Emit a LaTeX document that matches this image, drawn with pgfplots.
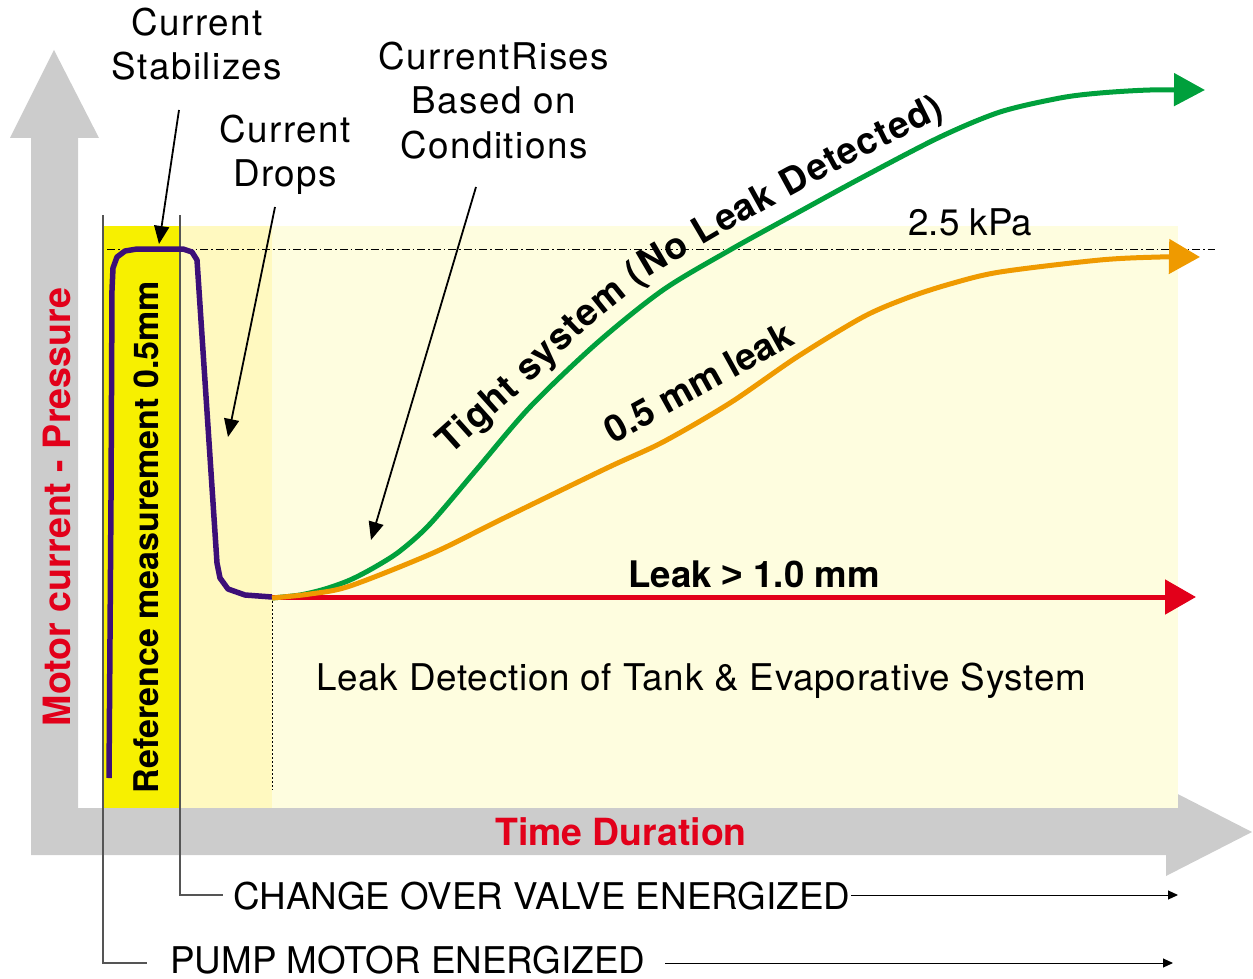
\documentclass[border=0pt]{standalone}
\usepackage{fontspec}
\setmainfont{TeX Gyre Heros}
\newfontfamily\ltsp[LetterSpace=4]{TeX Gyre Heros}
\newfontfamily\ltspb[LetterSpace=2]{TeX Gyre Heros}
\newfontfamily\lib{Liberation Sans}
\usepackage{pgfplots}
\pgfplotsset{compat=1.18}
\usetikzlibrary{arrows.meta,decorations.text}
\definecolor{axgray}{HTML}{CCCCCC}
\definecolor{ylwA}{HTML}{F7F000}
\definecolor{ylwB}{HTML}{FFF9C0}
\definecolor{ylwC}{HTML}{FEFDDF}
\definecolor{lgray}{HTML}{555555}
\definecolor{purp}{HTML}{3C0F78}
\definecolor{grn}{HTML}{00A03C}
\definecolor{org}{HTML}{EF9A00}
\definecolor{rd}{HTML}{E2001A}
\newcommand{\lt}{\fontsize{18.4}{22}\selectfont}
\newcommand{\lw}{\ltsp\fontsize{18.4}{22}\selectfont}
\newcommand{\bd}{\fontsize{17}{20}\selectfont\bfseries}
\begin{document}
\begin{tikzpicture}
\begin{axis}[width=626.5pt,height=489.5pt,scale only axis,
  xmin=0,xmax=1253,ymin=0,ymax=979,y dir=reverse,hide axis,clip=false]
% gray axis arrows
\fill[axgray] (axis cs:31,138) -- (axis cs:10,138) -- (axis cs:54,50) -- (axis cs:99,138) -- (axis cs:78,138) -- (axis cs:78,808) -- (axis cs:1166,808) -- (axis cs:1166,788) -- (axis cs:1252,832) -- (axis cs:1166,876) -- (axis cs:1166,855) -- (axis cs:31,855) -- cycle;
% yellow zones
\fill[ylwA] (axis cs:103,226) rectangle (axis cs:180,808);
\fill[ylwB] (axis cs:180,226) rectangle (axis cs:272,808);
\fill[ylwC] (axis cs:272,226) rectangle (axis cs:1178,808);
% timing lines
\draw[lgray,line width=0.75pt] (axis cs:103,215) -- (axis cs:103,963) -- (axis cs:147,963);
\draw[lgray,line width=0.75pt] (axis cs:180,215) -- (axis cs:180,895) -- (axis cs:223,895);
\draw[black,line width=0.5pt,-{Triangle[length=5pt,width=4.5pt]}] (axis cs:851,895) -- (axis cs:1178,895);
\draw[black,line width=0.5pt,-{Triangle[length=5pt,width=4.5pt]}] (axis cs:665,963) -- (axis cs:1173,963);
% reference lines
\draw[black,line width=0.4pt,dash pattern=on 4pt off 1.5pt on 0.75pt off 1.5pt] (axis cs:107,249) -- (axis cs:1215,249);
\draw[black,line width=0.4pt,dash pattern=on 1pt off 1pt] (axis cs:272,601) -- (axis cs:272,790);
% curves
\addplot[purp,line width=2.75pt,line join=round] coordinates {
(109,778) (111,500) (112,290) (113,268) (117,257) (125,251) (137,249) (183,249) (192,252) (197,260) (198,275) (217,563) (220,578) (228,589) (245,595) (272,597)};
\addplot[grn,smooth,line width=2.5pt,-{Triangle[length=15.5pt,width=16pt]}] coordinates {
(272,598) (300,595) (325,589) (350,580) (375,567) (400,551) (430,524) (477,469) (530,407) (597,343) (663,290) (730,250) (797,213) (863,177) (940,137) (1000,112) (1060,98) (1100,93) (1150,90) (1205,90)};
\addplot[rd,line width=2.5pt,-{Triangle[length=15.5pt,width=17pt]}] coordinates {(272,597) (1196,597)};
\addplot[org,smooth,line width=2.5pt,-{Triangle[length=15.5pt,width=17pt]}] coordinates {
(272,598) (310,594) (350,586) (433,553) (500,520) (607,468) (663,442) (730,403) (797,357) (863,317) (907,298) (950,284) (1000,272) (1100,260) (1160,257) (1200,257)};
% annotation arrows
\draw[black,line width=0.9pt,-{Triangle[length=9pt,width=7.5pt]}] (axis cs:179,110) -- (axis cs:159,244);
\draw[black,line width=0.9pt,-{Triangle[length=9pt,width=7.5pt]}] (axis cs:275,207) -- (axis cs:228,437);
\draw[black,line width=0.9pt,-{Triangle[length=9pt,width=7.5pt]}] (axis cs:476,187) -- (axis cs:371,540);
% annotation texts
\node[anchor=base,inner sep=0pt] at (axis cs:197,36) {\lw Current};
\node[anchor=base,inner sep=0pt] at (axis cs:197,80) {\lw Stabilizes};
\node[anchor=base,inner sep=0pt] at (axis cs:285,142) {\lw Current};
\node[anchor=base,inner sep=0pt] at (axis cs:285,186) {\lw Drops};
\node[anchor=base,inner sep=0pt] at (axis cs:494,70) {\lw CurrentRises};
\node[anchor=base,inner sep=0pt] at (axis cs:494,114) {\lw Based on};
\node[anchor=base,inner sep=0pt] at (axis cs:494,158) {\lw Conditions};
\node[anchor=base west,inner sep=0pt] at (axis cs:908,235) {\lt 2.5 kPa};
\node[anchor=base west,inner sep=0pt] at (axis cs:316,690) {\ltspb\fontsize{18.4}{22}\selectfont Leak Detection of Tank \& Evaporative System};
\node[anchor=base west,inner sep=0pt] at (axis cs:233,909) {\lt CHANGE OVER VALVE ENERGIZED};
\node[anchor=base west,inner sep=0pt] at (axis cs:170,973) {\lt PUMP MOTOR ENERGIZED};
\node[anchor=base west,inner sep=0pt] at (axis cs:628,587) {\fontsize{18.3}{20}\selectfont\bfseries Leak {\lib\bfseries >} 1.0 mm};
\node[anchor=base west,inner sep=0pt,rotate=29] at (axis cs:613,445) {\fontsize{18.5}{20}\selectfont\bfseries 0.5 mm leak};
\node[anchor=base,inner sep=0pt,rotate=90] at (axis cs:158,537) {\bd Reference measurement 0.5mm};
\node[anchor=base,inner sep=0pt,rotate=90,text=rd] at (axis cs:70,507) {\fontsize{18.8}{20}\selectfont\bfseries Motor current - Pressure};
\node[anchor=base,inner sep=0pt,text=rd] at (axis cs:621,845) {\fontsize{18.7}{20}\selectfont\bfseries Time Duration};
\path[decorate,decoration={text along path,text align=fit to path,
  text={|\fontsize{18.5}{20}\selectfont\bfseries|Tight system (No Leak Detected)}}]
  (axis cs:450,455) -- (axis cs:518,394) -- (axis cs:586,329) -- (axis cs:654,274) -- (axis cs:722,234) -- (axis cs:789,197) -- (axis cs:855,161) -- (axis cs:946,116);
\end{axis}
\pgfresetboundingbox
\path[use as bounding box] (0,0) rectangle (626.5pt,489.5pt);
\end{tikzpicture}
\end{document}
